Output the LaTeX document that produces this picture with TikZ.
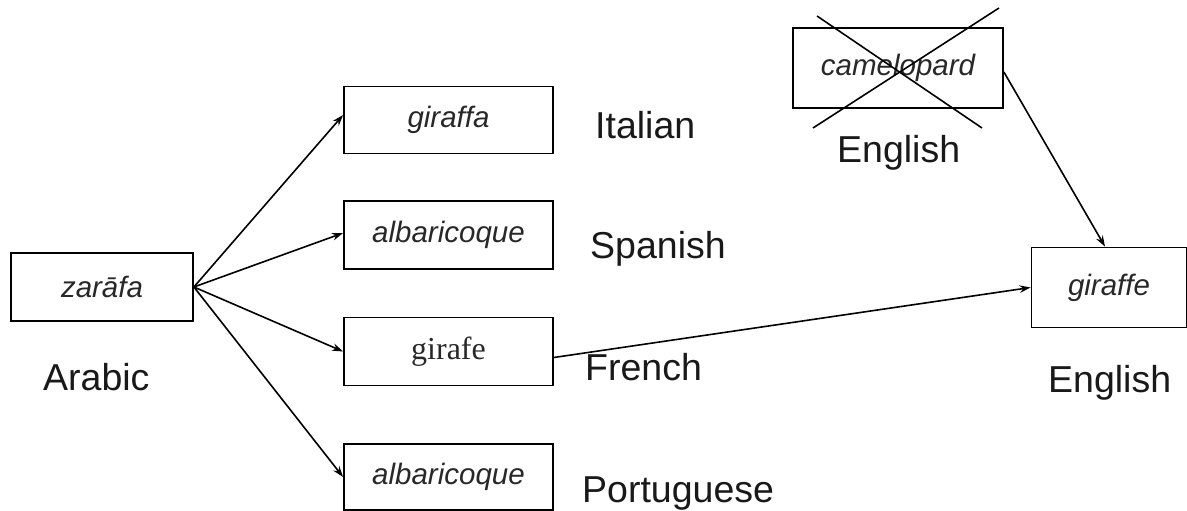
\documentclass[tikz,border=0pt]{standalone}
\usepackage{fontspec}
\setmainfont{Liberation Sans}
\newfontfamily\serifface{Liberation Serif}
\usetikzlibrary{arrows.meta}
\definecolor{boxtext}{RGB}{40,40,40}
\tikzset{
  wordbox/.style={draw=black, line width=1.8pt, inner sep=0pt, text=boxtext,
    font=\fontsize{29.5}{31}\selectfont\itshape},
  langlabel/.style={anchor=base west, inner sep=0pt, text=black!90,
    font=\fontsize{37.5}{40}\selectfont},
  link/.style={line width=1.6pt, -{Stealth[length=11pt,width=7.5pt]}},
  strike/.style={line width=1.6pt}
}
\begin{document}
\begin{tikzpicture}[x=1pt,y=-1pt]
\useasboundingbox (0,0) rectangle (1187,511);
\fill[white] (0,0) rectangle (1187,511);
% word boxes
\node[wordbox, minimum width=182pt, minimum height=68pt] (zarafa) at (102,287) {zarāfa};
\node[wordbox, minimum width=209pt, minimum height=67pt] (giraffa) at (448.5,120) {giraffa};
\node[wordbox, minimum width=209pt, minimum height=68pt] (albsp) at (448.5,235) {albaricoque};
\node[wordbox, minimum width=209pt, minimum height=68pt, font=\fontsize{32}{34}\selectfont\serifface] (girafe) at (448.5,351.5) {girafe};
\node[wordbox, minimum width=209pt, minimum height=66pt] (albpt) at (448.5,477) {albaricoque};
\node[wordbox, minimum width=210pt, minimum height=80pt] (camel) at (898,68) {camelopard};
\node[wordbox, minimum width=155pt, minimum height=80pt] (giraffe) at (1109,287.5) {giraffe};
% crossing out
\coordinate (xa1) at (817,16);
\coordinate (xa2) at (982,128);
\coordinate (xb1) at (999,8);
\coordinate (xb2) at (813,128);
\draw[strike] (xa1) -- (xa2);
\draw[strike] (xb1) -- (xb2);
% language labels
\node[langlabel] (lit) at (595,138) {Italian};
\node[langlabel] (les) at (590,258) {Spanish};
\node[langlabel] (lfr) at (585,380) {French};
\node[langlabel] (lpt) at (582,502) {Portuguese};
\node[langlabel] (lar) at (43,390) {Arabic};
\node[langlabel] (len1) at (837,162) {English};
\node[langlabel] (len2) at (1048,392) {English};
% connectors
\draw[link] (zarafa.east) -- ([yshift=5pt]giraffa.west);
\draw[link] (zarafa.east) -- ([yshift=2pt]albsp.west);
\draw[link] (zarafa.east) -- (girafe.west);
\draw[link] (zarafa.east) -- (albpt.west);
\draw[link] ([yshift=-6pt]girafe.east) -- (giraffe.west);
\draw[link] ([yshift=-4pt]camel.east) -- ([xshift=-4pt]giraffe.north);
\end{tikzpicture}
\end{document}
